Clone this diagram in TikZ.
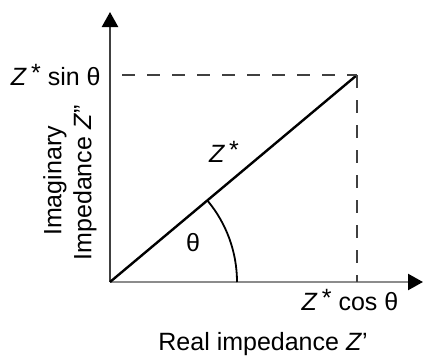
\documentclass[tikz,border=0pt]{standalone}
\usepackage{fontspec}
\setmainfont{Liberation Sans}
\usetikzlibrary{arrows.meta}

\newcommand{\zst}{\textit{Z}\,\raisebox{0.3ex}{*}}

\begin{document}
\begin{tikzpicture}[x=0.5pt, y=-0.5pt,
  every node/.style={inner sep=0pt, font=\fontsize{12.5}{15}\selectfont},
  axis/.style={line width=1.2pt, -{Triangle[width=8pt, length=7.5pt, black]}},
  guide/.style={line width=1.1pt, black!75, dash pattern=on 6.5pt off 6pt}]
\useasboundingbox (0,0) rectangle (424,359);
% axes and the phasor
\coordinate (O) at (110,282);
\coordinate (P) at (357,75);
\coordinate (ytip) at (110,12);
\coordinate (xtip) at (423,282);
\coordinate (yfoot) at (357,282);
\coordinate (ystart) at (122,75);
\draw[axis, black!75] (O) -- (ytip);
\draw[axis, black!45] (O) -- (xtip);
\draw[line width=1.2pt] (O) -- (P);
\draw[guide] (ystart) -- (P);
\draw[guide] (P) -- (yfoot);
\draw[line width=0.9pt] (237,282) arc[start angle=0, end angle=-40, radius=127];
% labels
\node[anchor=east] (sinlab) at (101,75) {\zst\ sin θ};
\node (coslab) at (350,300) {\zst\ cos θ};
\node (zlab) at (224,152) {\zst};
\node (thlab) at (193,243) {θ};
\node (xlab) at (263,344) {Real impedance \textit{Z}'};
\node[rotate=90] (ylab1) at (55,181) {Imaginary};
\node[rotate=90] (ylab2) at (85,183) {Impedance \textit{Z}''};
\end{tikzpicture}
\end{document}
